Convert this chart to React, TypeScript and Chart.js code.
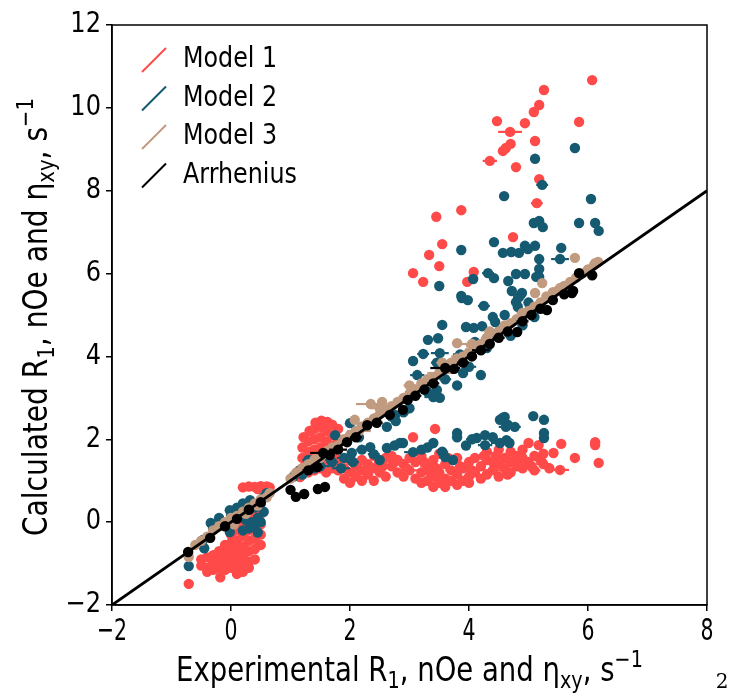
import React, { useEffect, useRef } from 'react';
import { Chart, registerables } from 'chart.js';

Chart.register(...registerables);

const xTickValues = [-2, 0, 2, 4, 6, 8];
const yTickValues = [-2, 0, 2, 4, 6, 8, 10, 12];
const seriesLabels = ['Model 1', 'Model 2', 'Model 3', 'Arrhenius'];
const seriesColors = ['#ff4a4a', '#165a72', '#c19b80', '#000000'];
const identityLine = [-2, 8];

// [experimental, calculated, experimental error]
const model1: number[][] = [
  [6.07, 10.67, 0], [5.26, 10.43, 0], [5.18, 10.07, 0], [5.09, 9.9, 0], [4.47, 9.68, 0], [4.94, 9.63, 0],
  [4.69, 9.42, 0.2], [5.85, 9.66, 0], [5.11, 9.2, 0], [4.7, 9.13, 0], [4.62, 9.03, 0], [4.57, 8.96, 0],
  [4.35, 8.72, 0.12], [4.79, 8.57, 0], [5.18, 8.28, 0], [5.14, 7.7, 0.1], [3.87, 7.53, 0], [3.45, 7.37, 0],
  [4.74, 6.88, 0], [3.55, 6.71, 0.05], [3.33, 6.45, 0.06], [3.5, 6.18, 0], [3.06, 6.01, 0], [3.23, 5.8, 0.08],
  [4.08, 6.04, 0], [3.97, 5.8, 0],
  [-0.71, -1.49, 0], [-0.18, -1.33, 0],
  [-0.5, -0.9, 0], [-0.5, -1.05, 0],
  [-0.4, -0.85, 0], [-0.4, -1.1, 0], [-0.4, -1.2, 0],
  [-0.3, -0.8, 0], [-0.3, -1.0, 0], [-0.3, -1.15, 0],
  [-0.2, -0.7, 0], [-0.2, -0.9, 0], [-0.2, -1.1, 0],
  [-0.1, -0.55, 0], [-0.1, -0.75, 0], [-0.1, -0.95, 0], [-0.1, -1.15, 0],
  [0, -0.3, 0], [0, -0.5, 0], [0, -0.7, 0], [0, -0.9, 0], [0, -1.1, 0],
  [0.1, -0.2, 0], [0.1, -0.45, 0], [0.1, -0.65, 0], [0.1, -0.85, 0], [0.1, -1.05, 0], [0.1, -1.25, 0],
  [0.2, -0.1, 0], [0.2, -0.35, 0], [0.2, -0.6, 0], [0.2, -0.8, 0], [0.2, -1.0, 0], [0.2, -1.2, 0],
  [0.3, 0.05, 0], [0.3, -0.2, 0], [0.3, -0.45, 0], [0.3, -0.7, 0], [0.3, -0.95, 0], [0.3, -1.1, 0],
  [0.4, 0.3, 0], [0.4, 0.1, 0], [0.4, -0.15, 0], [0.4, -0.4, 0], [0.4, -0.65, 0], [0.4, -0.9, 0],
  [0.5, 0.45, 0], [0.5, 0.2, 0], [0.5, -0.05, 0], [0.5, -0.3, 0], [0.5, -0.55, 0],
  [0.2, 0.84, 0], [0.3, 0.86, 0], [0.4, 0.85, 0], [0.5, 0.87, 0], [0.6, 0.86, 0], [0.65, 0.84, 0], [0.45, 0.8, 0],
  [1.2, 1.3, 0], [1.2, 1.55, 0], [1.2, 1.8, 0], [1.22, 2.05, 0],
  [1.3, 1.2, 0], [1.3, 1.45, 0], [1.3, 1.7, 0], [1.3, 1.95, 0], [1.32, 2.2, 0],
  [1.4, 1.25, 0], [1.4, 1.5, 0], [1.4, 1.75, 0], [1.4, 2.0, 0], [1.4, 2.25, 0], [1.42, 2.4, 0],
  [1.5, 1.3, 0], [1.5, 1.55, 0], [1.5, 1.8, 0], [1.5, 2.05, 0], [1.5, 2.3, 0], [1.52, 2.45, 0],
  [1.6, 1.2, 0], [1.6, 1.45, 0], [1.6, 1.7, 0], [1.6, 1.95, 0], [1.6, 2.2, 0], [1.62, 2.42, 0],
  [1.7, 1.3, 0], [1.7, 1.6, 0], [1.7, 1.85, 0], [1.7, 2.1, 0], [1.7, 2.35, 0],
  [1.8, 1.25, 0], [1.8, 1.5, 0], [1.8, 2.0, 0], [1.8, 2.25, 0], [1.16, 1.09, 0],
  [1.9, 1.3, 0], [1.9, 1.05, 0],
  [2.0, 1.5, 0], [2.0, 1.2, 0.1], [2.0, 0.95, 0],
  [2.1, 1.35, 0], [2.1, 1.1, 0],
  [2.2, 1.5, 0], [2.2, 1.25, 0.12], [2.2, 1.0, 0],
  [2.3, 1.4, 0], [2.3, 1.15, 0],
  [2.4, 1.6, 0], [2.4, 1.3, 0], [2.4, 1.0, 0],
  [2.5, 1.45, 0.1], [2.5, 1.2, 0],
  [2.6, 1.55, 0], [2.6, 1.1, 0],
  [2.7, 1.35, 0], [2.7, 1.6, 0],
  [2.8, 1.2, 0], [2.8, 1.5, 0.1],
  [2.9, 1.1, 0], [2.9, 1.4, 0],
  [3.0, 1.55, 0], [3.0, 1.25, 0.15],
  [3.06, 2.05, 0], [3.43, 2.25, 0],
  [3.1, 1.05, 0], [3.1, 1.45, 0],
  [3.2, 1.2, 0], [3.2, 0.95, 0], [3.2, 1.6, 0],
  [3.3, 1.0, 0], [3.3, 1.35, 0.12],
  [3.4, 0.85, 0], [3.4, 1.1, 0], [3.4, 1.5, 0],
  [3.5, 0.95, 0.15], [3.5, 1.2, 0], [3.5, 1.65, 0],
  [3.6, 0.85, 0], [3.6, 1.05, 0], [3.6, 1.4, 0],
  [3.7, 1.0, 0], [3.7, 1.25, 0.1],
  [3.8, 0.9, 0], [3.8, 1.15, 0], [3.8, 1.55, 0],
  [3.9, 1.0, 0.15], [3.9, 1.3, 0],
  [4.0, 1.1, 0], [4.0, 1.45, 0], [4.0, 0.95, 0],
  [4.1, 1.2, 0], [4.1, 1.55, 0.1],
  [4.2, 1.05, 0], [4.2, 1.35, 0],
  [4.3, 1.15, 0], [4.3, 1.5, 0], [4.3, 1.7, 0],
  [4.4, 1.25, 0.15], [4.4, 1.45, 0],
  [4.5, 1.1, 0], [4.5, 1.4, 0], [4.5, 1.75, 0],
  [4.6, 1.3, 0], [4.6, 1.55, 0.1],
  [4.7, 1.2, 0], [4.7, 1.45, 0], [4.7, 1.7, 0],
  [4.8, 1.35, 0.12], [4.8, 1.6, 0],
  [4.9, 1.3, 0], [4.9, 1.55, 0], [4.9, 1.75, 0],
  [5.0, 1.45, 0], [5.0, 1.91, 0],
  [5.1, 1.25, 0.1], [5.1, 1.6, 0], [5.17, 1.86, 0],
  [5.25, 1.4, 0.12], [5.25, 1.65, 0], [5.35, 1.3, 0], [5.42, 1.67, 0],
  [5.53, 1.26, 0.15], [5.55, 1.89, 0], [5.78, 1.55, 0],
  [6.12, 1.93, 0], [6.12, 1.86, 0], [6.18, 1.43, 0],
  [3.25, 1.45, 0.1], [3.45, 1.3, 0], [3.65, 1.55, 0.1], [3.85, 1.35, 0], [4.05, 1.25, 0.12], [4.25, 1.6, 0],
  [4.45, 1.6, 0], [4.65, 1.15, 0.1], [4.85, 1.5, 0], [5.05, 1.35, 0], [5.2, 1.5, 0.1], [2.55, 1.35, 0],
  [2.75, 1.45, 0.1], [2.95, 1.3, 0], [3.35, 1.2, 0.15], [3.55, 1.05, 0],
];

const model2: number[][] = [
  [5.78, 9.03, 0], [5.11, 8.77, 0], [5.23, 8.14, 0.1], [4.59, 7.87, 0.08], [6.05, 7.8, 0],
  [5.09, 7.22, 0], [5.18, 7.27, 0], [5.24, 7.12, 0], [5.85, 7.22, 0], [6.12, 7.22, 0], [6.18, 7.03, 0],
  [4.42, 6.76, 0], [3.87, 6.57, 0], [4.57, 6.5, 0], [4.71, 6.52, 0], [4.84, 6.5, 0], [4.94, 6.67, 0],
  [4.99, 6.59, 0], [5.11, 6.67, 0], [5.55, 6.62, 0],
  [5.18, 6.35, 0], [5.53, 6.35, 0.15], [5.18, 6.11, 0], [5.18, 5.92, 0], [5.13, 5.92, 0], [4.79, 5.99, 0],
  [4.94, 5.99, 0], [4.32, 6.01, 0.1], [4.42, 5.89, 0], [3.5, 5.7, 0], [4.66, 5.82, 0], [4.07, 5.87, 0],
  [4.72, 5.58, 0], [4.89, 5.53, 0], [4.84, 5.43, 0.1], [4.79, 5.31, 0], [4.82, 5.2, 0],
  [3.87, 5.46, 0], [3.88, 5.41, 0], [3.98, 5.36, 0], [4.25, 5.22, 0.1],
  [3.55, 4.76, 0], [3.95, 4.71, 0], [4.08, 4.69, 0], [4.22, 4.73, 0], [4.4, 4.95, 0], [4.44, 4.83, 0],
  [3.31, 4.4, 0], [3.48, 4.44, 0], [3.06, 3.89, 0], [3.23, 4.06, 0.1], [3.51, 4.08, 0.15], [3.46, 3.85, 0.1],
  [3.13, 3.55, 0.12], [3.31, 3.41, 0], [3.9, 3.6, 0], [3.46, 3.19, 0], [2.76, 2.59, 0], [3.51, 3.0, 0],
  [3.8, 3.3, 0], [4.0, 3.75, 0.12], [4.2, 3.55, 0], [3.7, 3.7, 0], [3.6, 3.45, 0.1], [3.3, 3.15, 0],
  [3.4, 3.02, 0.15], [2.72, 2.54, 0], [3.0, 2.75, 0], [2.9, 2.65, 0.1], [4.3, 4.2, 0], [4.5, 4.6, 0],
  [4.7, 4.5, 0.1], [4.9, 4.75, 0], [5.1, 4.95, 0], [5.0, 5.3, 0], [4.6, 5.0, 0], [3.85, 4.05, 0.12],
  [4.1, 4.35, 0.1],
  [2.03, 1.67, 0], [2.34, 1.81, 0], [2.4, 1.64, 0.1], [2.62, 1.79, 0], [2.75, 1.85, 0], [2.89, 1.91, 0],
  [2.62, 2.3, 0], [2.7, 2.55, 0], [2.77, 2.44, 0], [2.84, 1.91, 0], [3.06, 1.69, 0.15], [3.4, 1.91, 0],
  [3.3, 1.8, 0.1], [3.8, 2.15, 0], [3.8, 2.05, 0], [4.13, 2.03, 0.1], [4.27, 2.1, 0], [4.52, 2.47, 0],
  [4.57, 2.52, 0], [4.62, 2.3, 0.12], [3.6, 1.57, 0.1], [3.73, 1.5, 0], [4.27, 1.86, 0.12], [4.52, 1.91, 0.15],
  [5.08, 2.56, 0], [5.26, 2.47, 0], [5.26, 2.15, 0], [5.26, 2.03, 0], [4.6, 2.54, 0], [4.65, 2.35, 0],
  [4.77, 2.3, 0.1], [4.63, 1.98, 0.1], [4.68, 1.91, 0], [3.2, 1.75, 0], [3.55, 1.7, 0.1], [3.95, 1.85, 0],
  [4.05, 2.0, 0.1], [4.4, 2.05, 0], [2.2, 1.75, 0.1], [2.5, 1.5, 0],
  [1.3, 1.5, 0.1], [1.5, 1.35, 0.15], [1.7, 1.45, 0.1], [1.9, 1.55, 0.12], [1.6, 1.6, 0.1], [1.2, 1.15, 0],
  [1.4, 1.3, 0], [1.85, 1.3, 0.15], [2.05, 1.45, 0.1], [1.75, 2.1, 0], [1.95, 2.0, 0], [2.1, 2.2, 0],
  [2.2, 2.3, 0], [1.05, 1.1, 0], [1.15, 1.25, 0], [2.0, 2.39, 0], [2.15, 2.05, 0],
  [-0.71, -1.06, 0], [-0.47, -0.43, 0], [-0.45, -0.63, 0], [-0.34, -0.02, 0], [-0.3, -0.15, 0],
  [-0.02, -0.24, 0], [-0.02, 0.29, 0], [0.1, 0.35, 0], [0.2, 0.45, 0], [0.32, 0.53, 0], [-0.2, 0.1, 0],
  [0.0, 0.15, 0], [0.15, 0.2, 0.05], [0.3, 0.3, 0], [0.4, 0.35, 0.05], [0.5, 0.45, 0], [0.55, 0.6, 0],
  [0.6, 0.7, 0], [0.25, 0.05, 0.05], [0.35, 0.0, 0.05], [0.45, 0.1, 0.05], [-0.1, -0.05, 0],
  [0.4, -0.1, 0.05], [0.5, 0.0, 0.05], [0.3, -0.15, 0.05], [0.55, 0.25, 0.05], [0.2, -0.2, 0.05],
  [0.45, -0.25, 0.05],
];

const model3: number[][] = [
  [-0.71, -0.84, 0], [-0.6, -0.55, 0], [-0.5, -0.45, 0], [-0.4, -0.35, 0], [-0.3, -0.2, 0], [-0.2, -0.1, 0],
  [-0.1, 0.0, 0], [0.0, 0.1, 0], [0.1, 0.15, 0.05], [0.2, 0.25, 0], [0.3, 0.35, 0.05], [0.4, 0.45, 0],
  [0.5, 0.55, 0.05], [0.6, 0.6, 0], [0.65, 0.7, 0], [0.05, -0.05, 0], [0.25, 0.2, 0], [0.45, 0.4, 0],
  [1.0, 1.05, 0], [1.1, 1.2, 0.1], [1.2, 1.3, 0], [1.3, 1.4, 0.1], [1.4, 1.5, 0], [1.5, 1.55, 0.15],
  [1.6, 1.7, 0], [1.7, 1.8, 0.1], [1.8, 1.85, 0], [1.9, 2.0, 0.1], [2.0, 2.1, 0], [2.08, 2.47, 0],
  [2.1, 2.2, 0.12], [2.2, 2.3, 0], [2.3, 2.4, 0.15], [2.4, 2.5, 0], [2.54, 2.9, 0], [2.35, 2.85, 0.25],
  [2.5, 2.6, 0.1], [2.6, 2.7, 0], [2.7, 2.8, 0.12], [2.8, 2.9, 0], [2.9, 3.0, 0.1], [3.0, 3.1, 0],
  [3.1, 3.2, 0.15], [3.2, 3.35, 0], [3.3, 3.45, 0.1], [3.4, 3.5, 0], [3.5, 3.6, 0.2], [3.6, 3.75, 0],
  [3.7, 3.85, 0.15], [3.8, 4.32, 0], [3.8, 3.95, 0], [3.9, 4.0, 0.2], [4.0, 4.1, 0], [4.1, 4.25, 0.15],
  [4.2, 4.3, 0], [4.3, 4.45, 0.1], [4.4, 4.5, 0], [4.5, 4.6, 0.12], [4.6, 4.75, 0], [4.7, 4.8, 0.1],
  [4.8, 4.9, 0], [4.9, 5.05, 0.1], [5.0, 5.1, 0], [5.11, 5.53, 0], [5.1, 5.2, 0.1], [5.2, 5.3, 0],
  [5.23, 5.77, 0], [5.3, 5.45, 0], [5.41, 5.55, 0], [5.4, 5.5, 0], [5.53, 5.65, 0], [5.5, 5.6, 0],
  [5.6, 5.7, 0], [5.7, 5.8, 0], [5.78, 6.38, 0], [5.8, 5.9, 0], [5.9, 6.0, 0], [6.0, 6.1, 0],
  [6.12, 6.25, 0], [6.17, 6.28, 0], [6.1, 6.2, 0], [2.15, 2.2, 0.2], [2.5, 2.75, 0.15], [3.0, 3.3, 0.1],
  [3.55, 3.85, 0.1], [4.05, 4.3, 0.2], [4.35, 4.6, 0.1],
];

const arrhenius: number[][] = [
  [-0.72, -0.72, 0], [-0.35, -0.38, 0], [-0.1, -0.1, 0.05], [0.1, 0.08, 0], [0.3, 0.3, 0.05], [0.5, 0.48, 0],
  [1.0, 0.78, 0], [1.09, 0.61, 0], [1.23, 0.68, 0], [1.46, 0.8, 0], [1.58, 0.85, 0],
  [1.3, 1.25, 0.1], [1.45, 1.33, 0.1], [1.55, 1.67, 0.22], [1.66, 1.62, 0], [1.8, 1.75, 0.15],
  [1.95, 1.93, 0], [2.1, 2.05, 0.1], [2.29, 2.34, 0], [2.45, 2.4, 0.1], [2.67, 2.59, 0], [2.89, 2.71, 0],
  [2.97, 2.95, 0], [3.1, 3.05, 0.1], [3.25, 3.2, 0], [3.4, 3.35, 0.1], [3.6, 3.72, 0.25], [3.75, 3.7, 0],
  [3.9, 3.85, 0.1], [4.05, 4.0, 0], [4.2, 4.15, 0.15], [4.35, 4.3, 0], [4.5, 4.45, 0.1], [4.65, 4.6, 0],
  [4.81, 4.59, 0], [4.9, 4.85, 0.1], [5.05, 5.0, 0], [5.2, 5.15, 0], [5.31, 5.12, 0], [5.41, 5.36, 0],
  [5.6, 5.5, 0], [5.75, 5.58, 0], [5.73, 5.53, 0], [5.85, 6.01, 0], [6.07, 5.96, 0],
];

const SANS = '"DejaVu Sans", sans-serif';
type Seg = { t: string; k?: 'sub' | 'sup' };

const xTitle: Seg[] = [
  { t: 'Experimental R' }, { t: '1', k: 'sub' }, { t: ', nOe and η' }, { t: 'xy', k: 'sub' }, { t: ', s' }, { t: '\u22121', k: 'sup' },
];
const yTitle: Seg[] = [
  { t: 'Calculated R' }, { t: '1', k: 'sub' }, { t: ', nOe and η' }, { t: 'xy', k: 'sub' }, { t: ', s' }, { t: '\u22121', k: 'sup' },
];

const segFont = (size: number, k?: string) => `${k ? size * 0.7 : size}px ${SANS}`;

function richWidth(ctx: CanvasRenderingContext2D, segs: Seg[], size: number) {
  let w = 0;
  for (const s of segs) {
    ctx.font = segFont(size, s.k);
    w += ctx.measureText(s.t).width;
  }
  return w;
}

function drawRich(ctx: CanvasRenderingContext2D, segs: Seg[], size: number, targetWidth: number) {
  const natural = richWidth(ctx, segs, size);
  const sx = targetWidth / natural;
  ctx.save();
  ctx.scale(sx, 1);
  ctx.textAlign = 'left';
  ctx.textBaseline = 'alphabetic';
  let cx = -natural / 2;
  for (const s of segs) {
    ctx.font = segFont(size, s.k);
    const dy = s.k === 'sub' ? size * 0.2 : s.k === 'sup' ? -size * 0.42 : 0;
    ctx.fillText(s.t, cx, dy);
    cx += ctx.measureText(s.t).width;
  }
  ctx.restore();
}

function drawPlain(
  ctx: CanvasRenderingContext2D, text: string, x: number, y: number, size: number, sx: number,
  align: 'left' | 'center' | 'right', family = SANS,
) {
  ctx.save();
  ctx.font = `${size}px ${family}`;
  ctx.textBaseline = 'middle';
  ctx.textAlign = 'left';
  const w = ctx.measureText(text).width * sx;
  const x0 = align === 'right' ? x - w : align === 'center' ? x - w / 2 : x;
  ctx.translate(x0, y);
  ctx.scale(sx, 1);
  ctx.fillText(text, 0, 0);
  ctx.restore();
}

const fmt = (v: number) => (v < 0 ? '\u2212' + Math.abs(v) : String(v));

const errorBarPlugin = {
  id: 'xErrorBars',
  beforeDatasetDraw(chart: any, args: any) {
    const ds = chart.data.datasets[args.index];
    const errs: number[] | undefined = ds.xErr;
    if (!errs) return;
    const { ctx, chartArea: a } = chart;
    const xs = chart.scales.x;
    const ys = chart.scales.y;
    ctx.save();
    ctx.beginPath();
    ctx.rect(a.left, a.top, a.right - a.left, a.bottom - a.top);
    ctx.clip();
    ctx.strokeStyle = ds.backgroundColor;
    ctx.lineWidth = 2.2;
    ds.data.forEach((p: any, i: number) => {
      const e = errs[i];
      if (!e) return;
      const py = ys.getPixelForValue(p.y);
      ctx.beginPath();
      ctx.moveTo(xs.getPixelForValue(p.x - e), py);
      ctx.lineTo(xs.getPixelForValue(p.x + e), py);
      ctx.stroke();
    });
    ctx.restore();
  },
};

const decorPlugin = {
  id: 'decor',
  afterDraw(chart: any) {
    const { ctx, chartArea: a } = chart;
    const xs = chart.scales.x;
    const ys = chart.scales.y;
    ctx.save();
    ctx.strokeStyle = '#000';
    ctx.lineWidth = 1.5;
    ctx.strokeRect(a.left, a.top, a.right - a.left, a.bottom - a.top);
    ctx.fillStyle = '#000';
    for (const t of ys.ticks) {
      drawPlain(ctx, fmt(t.value), a.left - 11, ys.getPixelForValue(t.value), 28, 0.86, 'right');
    }
    for (const t of xs.ticks) {
      drawPlain(ctx, fmt(t.value), xs.getPixelForValue(t.value), a.bottom + 27, 31, 0.66, 'center');
    }
    ctx.save();
    ctx.translate((a.left + a.right) / 2, 681);
    drawRich(ctx, xTitle, 34, 467);
    ctx.restore();
    ctx.save();
    ctx.translate(47, (a.top + a.bottom) / 2 + 2);
    ctx.rotate(-Math.PI / 2);
    drawRich(ctx, yTitle, 34, 438);
    ctx.restore();
    seriesLabels.forEach((label, i) => {
      const c = 60 + i * 38.5;
      ctx.strokeStyle = seriesColors[i];
      ctx.lineWidth = 2;
      ctx.beginPath();
      ctx.moveTo(142, c + 12);
      ctx.lineTo(166, c - 12);
      ctx.stroke();
      ctx.fillStyle = '#000';
      drawPlain(ctx, label, 183, c, 28, 0.85, 'left');
    });
    drawPlain(ctx, '2', 722, 683, 20, 1, 'center', '"DejaVu Serif", serif');
    ctx.restore();
  },
};

const makeSeries = (label: string, pts: number[][], color: string, order: number) => ({
  label,
  data: pts.map((p) => ({ x: p[0], y: p[1] })),
  xErr: pts.map((p) => p[2]),
  backgroundColor: color,
  borderColor: color,
  pointRadius: 5.2,
  pointHoverRadius: 5.2,
  pointBorderWidth: 0,
  order,
});

export default function App() {
  const ref = useRef<HTMLCanvasElement>(null);
  useEffect(() => {
    document.body.style.margin = '0';
    const canvas = ref.current!;
    const axisCommon = {
      type: 'linear' as const,
      ticks: { display: false },
      grid: { drawOnChartArea: false, drawTicks: true, tickLength: 6, color: '#000', lineWidth: 1.5 },
      border: { display: true, color: '#000', width: 1.5 },
      title: { display: false },
    };
    const chart = new Chart(canvas, {
      type: 'scatter',
      data: {
        datasets: [
          {
            label: 'y = x',
            data: identityLine.map((v) => ({ x: v, y: v })),
            showLine: true,
            borderColor: '#000',
            backgroundColor: '#000',
            borderWidth: 2.8,
            pointRadius: 0,
            pointHoverRadius: 0,
            order: 0,
          } as any,
          makeSeries(seriesLabels[3], arrhenius, seriesColors[3], 1),
          makeSeries(seriesLabels[2], model3, seriesColors[2], 2),
          makeSeries(seriesLabels[1], model2, seriesColors[1], 3),
          makeSeries(seriesLabels[0], model1, seriesColors[0], 4),
        ],
      },
      options: {
        responsive: false,
        animation: false,
        devicePixelRatio: 1,
        events: [],
        layout: { padding: { top: 25, right: 29, bottom: 0, left: 0 } },
        plugins: { legend: { display: false }, tooltip: { enabled: false } },
        scales: {
          x: {
            ...axisCommon,
            position: 'bottom',
            min: xTickValues[0],
            max: xTickValues[xTickValues.length - 1],
            afterBuildTicks: (s: any) => { s.ticks = xTickValues.map((v) => ({ value: v })); },
            afterFit: (s: any) => { s.height = 88; },
          },
          y: {
            ...axisCommon,
            position: 'left',
            min: yTickValues[0],
            max: yTickValues[yTickValues.length - 1],
            afterBuildTicks: (s: any) => { s.ticks = yTickValues.map((v) => ({ value: v })); },
            afterFit: (s: any) => { s.width = 112; },
          },
        } as any,
      },
      plugins: [errorBarPlugin, decorPlugin],
    });
    return () => chart.destroy();
  }, []);
  return (
    <div style={{ width: 736, height: 693 }}>
      <canvas ref={ref} width={736} height={693} style={{ display: 'block' }} />
    </div>
  );
}
